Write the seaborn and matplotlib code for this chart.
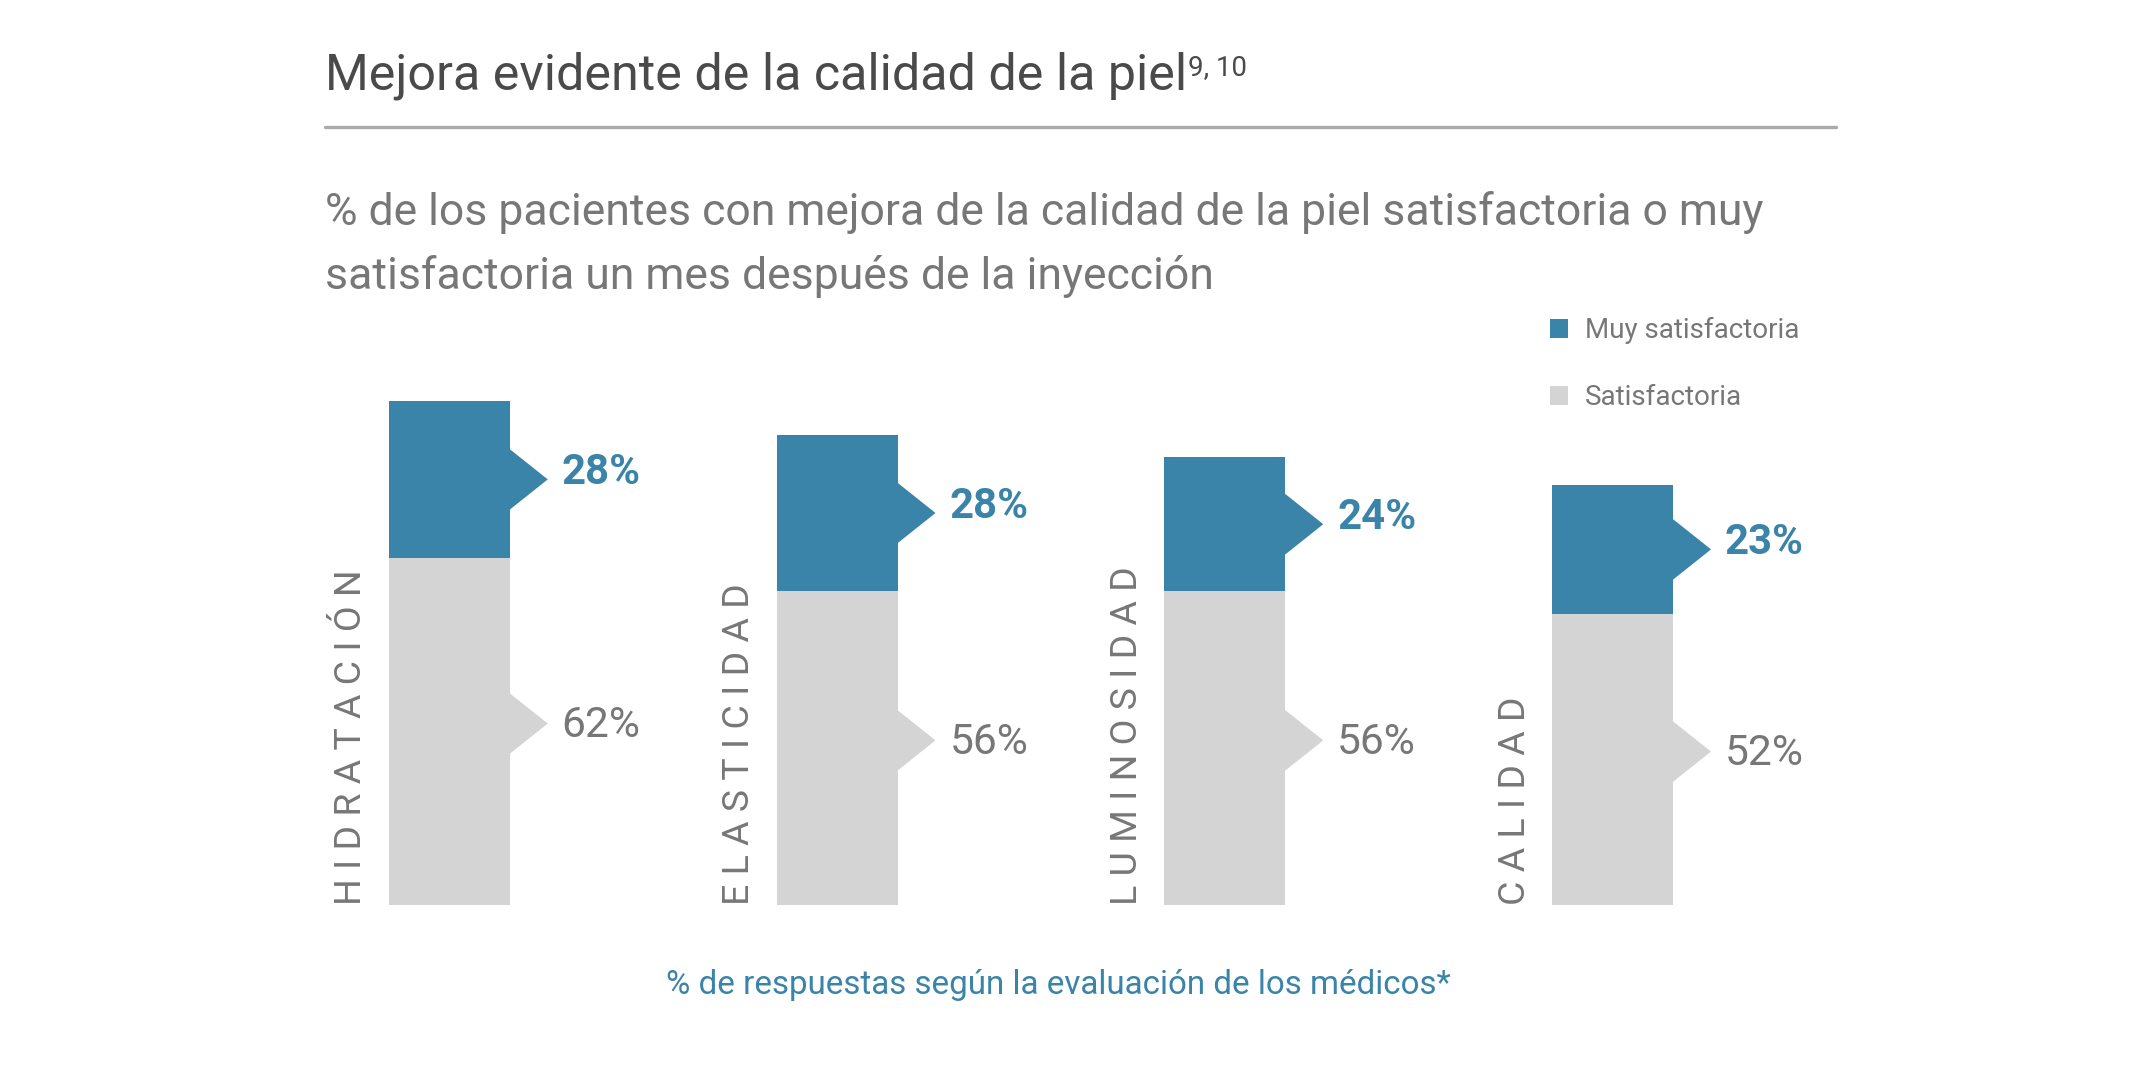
#!/usr/bin/env python3

import matplotlib
matplotlib.use("Agg")
import matplotlib.pyplot as plt
from matplotlib import font_manager
from matplotlib.lines import Line2D
from matplotlib.patches import Patch, Polygon
import pandas as pd
import seaborn as sns

# data
categories = ["HIDRATACIÓN", "ELASTICIDAD", "LUMINOSIDAD", "CALIDAD"]
muy_satisfactoria = [28, 28, 24, 23]
satisfactoria = [62, 56, 56, 52]
series_names = ["Muy satisfactoria", "Satisfactoria"]

title = "Mejora evidente de la calidad de la piel"
title_refs = "9, 10"
subtitle = ["% de los pacientes con mejora de la calidad de la piel satisfactoria o muy",
            "satisfactoria un mes después de la inyección"]
footnote = "% de respuestas según la evaluación de los médicos*"

BLUE = "#3a83a9"
LIGHT = "#d4d4d4"
GREY_TEXT = "#777777"
DARK_TEXT = "#4a4a4a"
W, H, DPI = 2140, 1086, 100


def has_font(name):
    try:
        font_manager.findfont(font_manager.FontProperties(family=name),
                              fallback_to_default=False)
        return True
    except ValueError:
        return False


narrow = next((f for f in ["Liberation Sans Narrow", "DejaVu Sans Condensed", "Roboto"]
               if has_font(f)), "DejaVu Sans")
body = "Roboto" if has_font("Roboto") else "DejaVu Sans"


def fx(px):
    return px / W


def fy(px):
    return 1 - px / H


def fit(txt, target, renderer, vertical=False):
    # scale the font so the text spans the same pixels as in the reference
    bb = txt.get_window_extent(renderer)
    size = bb.height if vertical else bb.width
    txt.set_fontsize(txt.get_fontsize() * target / size)


def main():
    sns.set_style("white")
    plt.rcParams["font.family"] = [body, "DejaVu Sans"]

    df = pd.DataFrame({"categoria": categories,
                       "muy": muy_satisfactoria,
                       "sat": satisfactoria})
    df["total"] = df["muy"] + df["sat"]

    fig = plt.figure(figsize=(W / DPI, H / DPI), dpi=DPI)
    fig.patch.set_facecolor("white")
    ax = fig.add_axes([fx(255.4), fy(905), fx(1551), 560 / H])

    bw = 0.312
    sns.barplot(data=df, x="categoria", y="total", color=BLUE, width=bw,
                saturation=1, errorbar=None, linewidth=0, ax=ax)
    sns.barplot(data=df, x="categoria", y="sat", color=LIGHT, width=bw,
                saturation=1, errorbar=None, linewidth=0, ax=ax)
    ax.set_xlim(-0.5, len(categories) - 0.5)
    ax.set_ylim(0, 100)
    ax.axis("off")

    depth, half = 0.098, 5.4
    value_texts = []
    cat_texts = []
    for i, row in df.iterrows():
        xr = i + bw / 2
        segments = [((row["sat"] + row["total"]) / 2, row["muy"], BLUE, "bold"),
                    (row["sat"] / 2 + 1.4, row["sat"], LIGHT, "normal")]
        for yc, val, col, weight in segments:
            ax.add_patch(Polygon([(xr - 0.01, yc + half), (xr, yc + half),
                                  (xr + depth, yc), (xr, yc - half),
                                  (xr - 0.01, yc - half)],
                                 closed=True, facecolor=col, edgecolor="none"))
            tcol = BLUE if col == BLUE else GREY_TEXT
            t = ax.annotate(f"{val}%", xy=(xr + depth, yc),
                            xytext=(10, 5 if col == BLUE else -1.5),
                            textcoords="offset points", ha="left", va="center",
                            fontsize=28, color=tcol, fontweight=weight)
            value_texts.append(t)
        c = ax.annotate(" ".join(row["categoria"]), xy=(i - bw / 2, 0), xytext=(-27, 0),
                        textcoords="offset points", rotation=90, ha="center", va="bottom",
                        fontsize=22, color=GREY_TEXT)
        cat_texts.append(c)

    # header
    t_title = fig.text(fx(325), fy(89), title, family=[narrow, "DejaVu Sans"],
                       fontsize=38, color=DARK_TEXT, va="baseline")
    t_sub1 = fig.text(fx(325), fy(225), subtitle[0], fontsize=26, color=GREY_TEXT, va="baseline")
    t_sub2 = fig.text(fx(325), fy(289), subtitle[1], fontsize=26, color=GREY_TEXT, va="baseline")
    fig.add_artist(Line2D([fx(325), fx(1836)], [fy(127), fy(127)], color="#aaaaaa", lw=2.4))
    t_foot = fig.text(fx(1058), fy(985), footnote, fontsize=20, color=BLUE,
                      ha="center", va="center")

    renderer = fig.canvas.get_renderer()
    fit(t_title, 860, renderer)
    fit(t_sub1, 1440, renderer)
    t_sub2.set_fontsize(t_sub1.get_fontsize())
    fit(t_foot, 783, renderer)
    for t in value_texts:
        fit(t, 79, renderer)
    fit(cat_texts[0], 336, renderer, vertical=True)
    for c in cat_texts[1:]:
        c.set_fontsize(cat_texts[0].get_fontsize())

    ax.annotate(title_refs, xy=(1, 1), xycoords=t_title, xytext=(0.5, -2),
                textcoords="offset points", ha="left", va="top",
                family=[narrow, "DejaVu Sans"], fontsize=t_title.get_fontsize() * 0.55,
                color=DARK_TEXT)

    handles = [Patch(facecolor=BLUE, edgecolor="none", label=series_names[0]),
               Patch(facecolor=LIGHT, edgecolor="none", label=series_names[1])]
    fs = 20
    fpx = fs / 72 * DPI
    leg = fig.legend(handles=handles, loc="upper left", bbox_to_anchor=(fx(1550), fy(317)),
                     frameon=False, fontsize=fs, handlelength=18 / fpx, handleheight=18 / fpx,
                     handletextpad=17 / fpx, labelspacing=(68 - fpx) / fpx,
                     borderpad=0, borderaxespad=0)
    for txt in leg.get_texts():
        txt.set_color(GREY_TEXT)

    fig.savefig("out.png", dpi=DPI, facecolor="white")


if __name__ == '__main__':
    main()
